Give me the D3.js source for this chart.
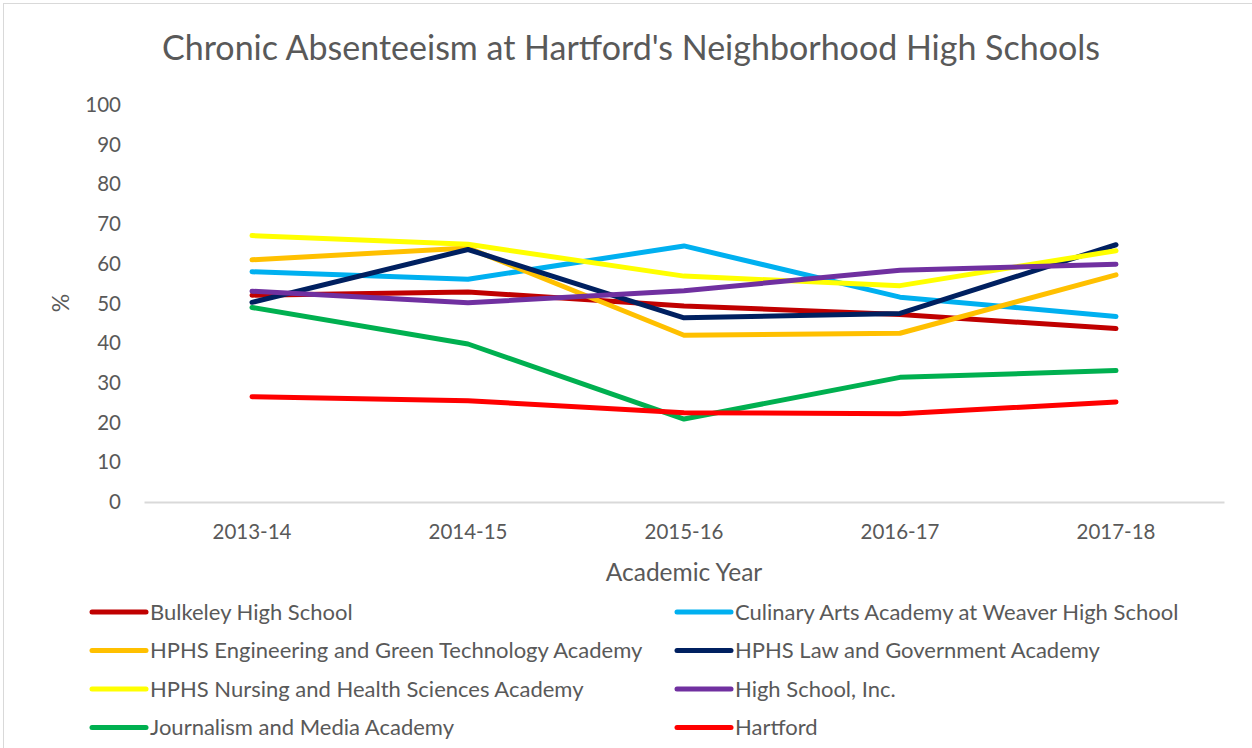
<!DOCTYPE html>
<html>
<head>
  <style>
    body {
      margin: 0;
      font-family: Lato, "Open Sans", sans-serif;
      background: #fff;
    }
    text {
      fill: #595959;
    }
    .axis .domain {
      stroke: #d9d9d9;
      stroke-width: 2;
    }
    .axis .tick line {
      display: none;
    }
    .axis .tick text {
      font-size: 20.5px;
      font-family: Lato, sans-serif;
      fill: #595959;
    }
  </style>
</head>
<body>
  <script src="https://d3js.org/d3.v7.min.js"></script>
  <script>
    var years = ["2013-14", "2014-15", "2015-16", "2016-17", "2017-18"];
    var yTicks = [0, 10, 20, 30, 40, 50, 60, 70, 80, 90, 100];

    var bulkeley   = [52.1, 52.9, 49.4, 47.2, 43.7];
    var culinary   = [58.0, 56.1, 64.5, 51.6, 46.7];
    var engineering = [61.0, 64.0, 42.0, 42.5, 57.2];
    var law        = [50.3, 63.6, 46.4, 47.5, 64.8];
    var nursing    = [67.1, 64.9, 56.9, 54.5, 63.3];
    var hsinc      = [53.1, 50.2, 53.2, 58.4, 59.9];
    var journalism = [49.0, 39.8, 20.9, 31.4, 33.1];
    var hartford   = [26.5, 25.5, 22.5, 22.2, 25.2];

    var names = [
      "Bulkeley High School",
      "Culinary Arts Academy at Weaver High School",
      "HPHS Engineering and Green Technology Academy",
      "HPHS Law and Government Academy",
      "HPHS Nursing and Health Sciences Academy",
      "High School, Inc.",
      "Journalism and Media Academy",
      "Hartford"
    ];
    var colors = ["#C00000", "#00B0F0", "#FFC000", "#002060", "#FFFF00", "#7030A0", "#00B050", "#FF0000"];
    var values = [bulkeley, culinary, engineering, law, nursing, hsinc, journalism, hartford];

    var series = names.map(function(n, i){
      return { name: n, color: colors[i], values: values[i] };
    });

    var W = 1252, H = 748;
    var svg = d3.select("body").append("svg")
        .attr("width", W)
        .attr("height", H);

    // chart frame
    svg.append("rect")
        .attr("x", 3.5).attr("y", 3.5)
        .attr("width", W + 10).attr("height", H + 10)
        .attr("fill", "#fff")
        .attr("stroke", "#d9d9d9");

    var x = d3.scaleBand()
      .domain(years)
      .range([144, 1224]);

    var y = d3.scaleLinear()
      .domain([0, 100])
      .range([502, 105]);

    svg.append("text")
        .attr("x", 631)
        .attr("y", 60)
        .attr("text-anchor", "middle")
        .style("font-size", "34px")
        .text("Chronic Absenteeism at Hartford's Neighborhood High Schools");

    svg.append("g")
        .attr("class", "x axis")
        .attr("transform", "translate(0,502)")
        .call(d3.axisBottom(x).tickSizeOuter(0).tickPadding(16));

    var yAxis = svg.append("g")
        .attr("class", "y axis")
        .attr("transform", "translate(129,0)")
        .call(d3.axisLeft(y).tickValues(yTicks).tickSize(0).tickPadding(8));
    yAxis.select(".domain").remove();

    svg.append("text")
        .attr("x", 684)
        .attr("y", 581)
        .attr("text-anchor", "middle")
        .style("font-size", "24.5px")
        .text("Academic Year");

    svg.append("text")
        .attr("transform", "translate(69,303) rotate(-90)")
        .attr("text-anchor", "middle")
        .style("font-size", "23px")
        .text("%");

    var line = d3.line()
      .x(function(d, i){ return x(years[i]) + x.bandwidth() / 2; })
      .y(function(d){ return y(d); });

    svg.selectAll(".series")
      .data(series)
      .enter().append("path")
        .attr("class", "series")
        .attr("d", function(d){ return line(d.values); })
        .attr("fill", "none")
        .attr("stroke", function(d){ return d.color; })
        .attr("stroke-width", 5)
        .attr("stroke-linejoin", "round")
        .attr("stroke-linecap", "round");

    // legend, two columns
    var legend = svg.selectAll(".legend")
      .data(series)
      .enter().append("g")
        .attr("class", "legend")
        .attr("transform", function(d, i){
          var col = i % 2, row = Math.floor(i / 2);
          return "translate(" + (col ? 677 : 92) + "," + (612 + row * 38.5) + ")";
        });

    legend.append("line")
        .attr("x1", 0).attr("x2", 54)
        .attr("stroke", function(d){ return d.color; })
        .attr("stroke-width", 5)
        .attr("stroke-linecap", "round");

    legend.append("text")
        .attr("x", 58)
        .attr("dy", "0.35em")
        .style("font-size", "22px")
        .text(function(d){ return d.name; });
  </script>
</body>
</html>
